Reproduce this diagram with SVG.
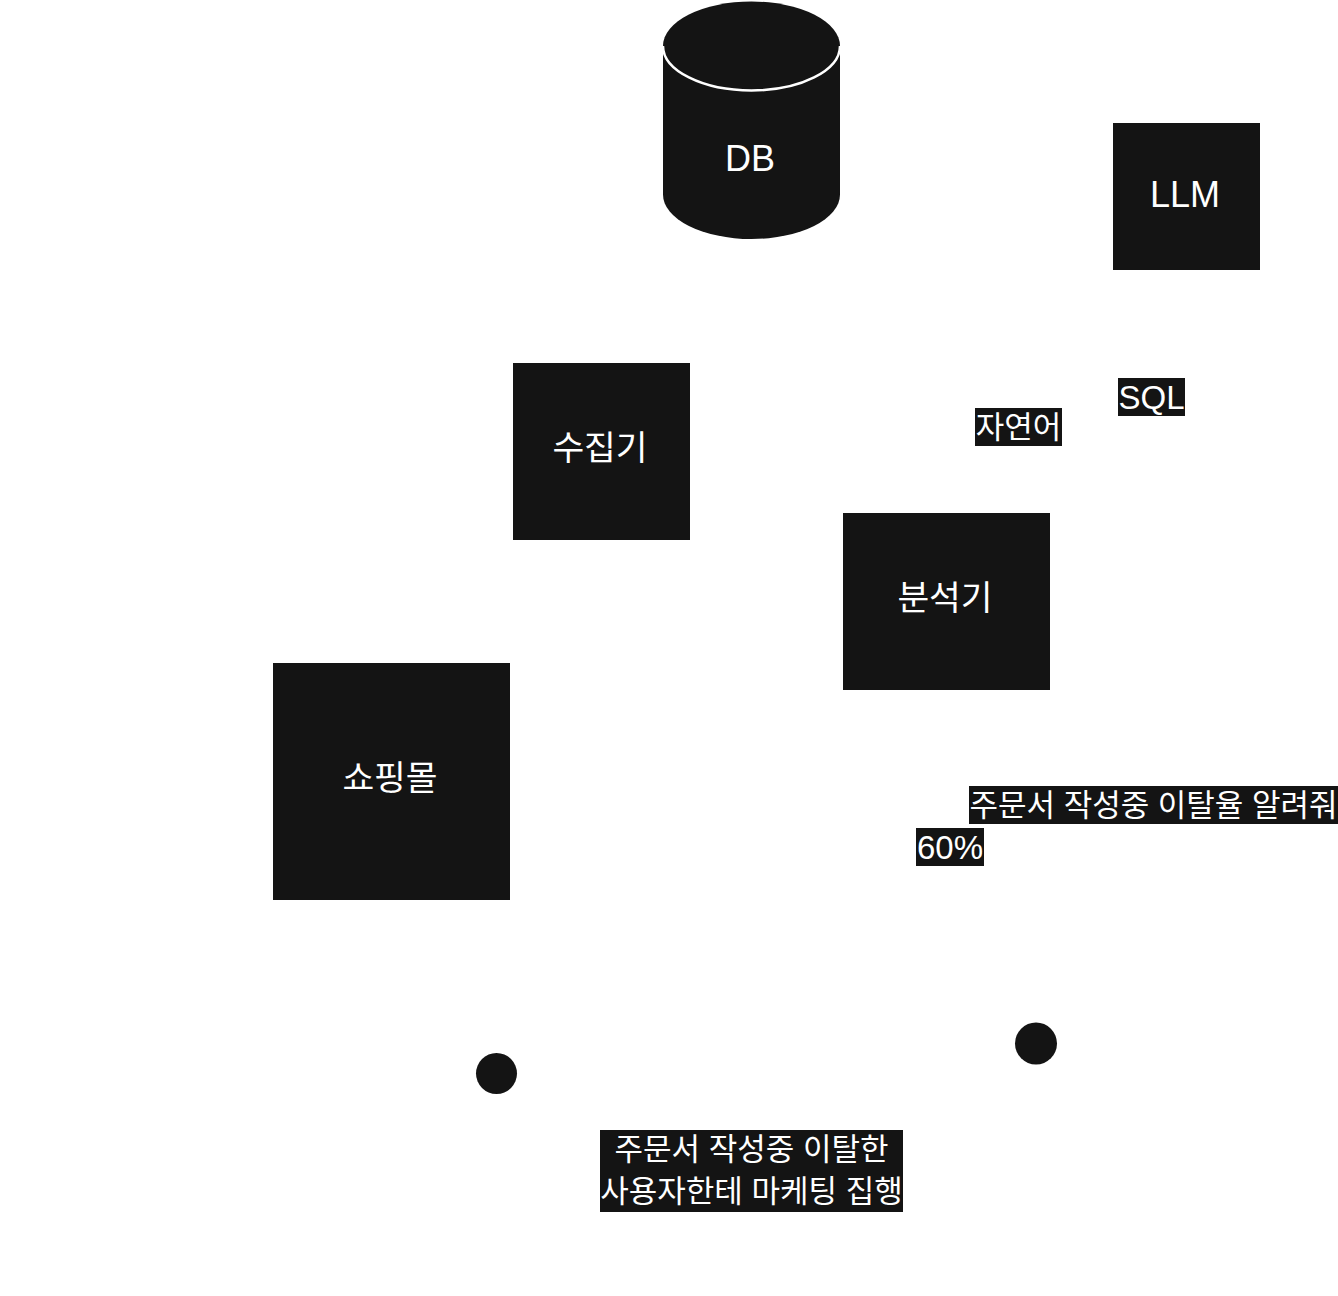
<svg xmlns="http://www.w3.org/2000/svg" width="1338" height="1296" viewBox="0 0 1338 1296">
  <style>
    .shape { fill: #141414; }
    .t { fill: #ffffff; font-family: "Liberation Sans", "Noto Sans CJK KR", sans-serif; text-anchor: middle; dominant-baseline: central; }
    .nl { font-size: 36px; }
    .nk { font-size: 34.5px; }
    .ll { font-size: 33px; }
    .lk { font-size: 31px; }
    .lbg { fill: #141414; }
    .conn { fill: none; stroke: #ffffff; stroke-width: 2; }
  </style>
  <defs>
    <marker id="arrow" viewBox="0 0 10 10" refX="10" refY="5" markerWidth="9" markerHeight="9" orient="auto-start-reverse" markerUnits="userSpaceOnUse">
      <path d="M0,0 L10,5 L0,10 Z" fill="#ffffff"/>
    </marker>
  </defs>
  <rect width="1338" height="1296" fill="#ffffff"/>

  <g id="connectors">
    <path class="conn" d="M496,1053 L425.5,895" marker-end="url(#arrow)"/>
  </g>

  <g id="node-db">
    <path class="shape" d="M663,46 A88.5,44.5 0 0 1 840,46 L840,194.5 A88.5,44.5 0 0 1 663,194.5 Z"/>
    <path d="M663,46 A88.5,44.5 0 0 0 840,46" fill="none" stroke="#ffffff" stroke-width="2.5"/>
    <text class="t nl" x="750" y="158">DB</text>
  </g>

  <g id="node-llm">
    <rect class="shape" x="1113" y="123" width="147" height="147"/>
    <text class="t nl" x="1185" y="194">LLM</text>
  </g>

  <g id="node-collector">
    <rect class="shape" x="513" y="363" width="177" height="177"/>
    <text class="t nk" x="600" y="448">수집기</text>
  </g>

  <g id="node-analyzer">
    <rect class="shape" x="843" y="513" width="207" height="177"/>
    <text class="t nk" x="945" y="598">분석기</text>
  </g>

  <g id="node-shop">
    <rect class="shape" x="273" y="663" width="237" height="237"/>
    <text class="t nk" x="390" y="778">쇼핑몰</text>
  </g>

  <g id="node-user1">
    <circle class="shape" cx="496.5" cy="1073.5" r="20.5"/>
  </g>

  <g id="node-user2">
    <circle class="shape" cx="1036" cy="1043.5" r="21"/>
  </g>

  <g id="labels">
    <g id="label-sql">
      <rect class="lbg" x="1118" y="378" width="67" height="38"/>
      <text class="t ll" x="1151.5" y="397">SQL</text>
    </g>
    <g id="label-natural">
      <rect class="lbg" x="975" y="408" width="87" height="38"/>
      <text class="t lk" x="1018.5" y="427">자연어</text>
    </g>
    <g id="label-question">
      <rect class="lbg" x="969" y="786" width="369" height="38"/>
      <text class="t lk" x="1153.5" y="805">주문서 작성중 이탈율 알려줘</text>
    </g>
    <g id="label-answer">
      <rect class="lbg" x="916" y="828" width="68" height="38"/>
      <text class="t ll" x="950" y="847">60%</text>
    </g>
    <g id="label-marketing">
      <rect class="lbg" x="600" y="1130" width="303" height="82"/>
      <text class="t lk" x="751.5" y="1149">주문서 작성중 이탈한</text>
      <text class="t lk" x="751.5" y="1191">사용자한테 마케팅 집행</text>
    </g>
  </g>
</svg>
